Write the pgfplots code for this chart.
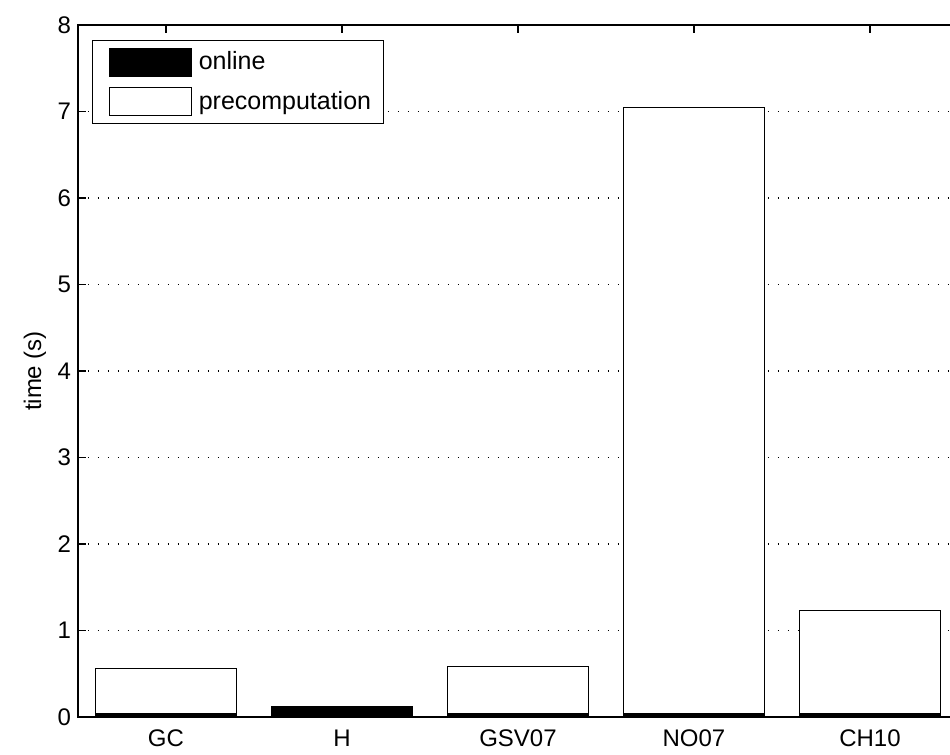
\documentclass[border=0pt]{standalone}
\usepackage{fontspec}
\setmainfont{Liberation Sans}
\usepackage{pgfplots}
\pgfplotsset{compat=1.18}
\begin{document}
\begin{tikzpicture}
\useasboundingbox (-39pt,-19pt) rectangle (436pt,358.5pt);
\begin{axis}[
 at={(0,0)}, anchor=south west,
 scale only axis, width=440pt, height=346pt,
 xmin=0.5, xmax=5.5, ymin=0, ymax=8,
 ybar stacked, bar width=0.8,
 xtick={1,2,3,4,5}, xticklabels={GC,H,GSV07,NO07,CH10},
 ytick={0,1,2,3,4,5,6,7,8},
 tick align=inside, major tick length=4pt,
 ymajorgrids,
 grid style={black, line width=0.6pt, dash pattern=on 0.6pt off 4.4pt},
 axis line style={line width=0.6pt},
 every tick/.style={black, line width=0.6pt},
 font=\fontsize{12}{14}\selectfont,
 xticklabel style={yshift=-3pt},
 /pgf/number format/assume math mode=true,
 ylabel={time (s)},
 ylabel style={at={(axis description cs:-0.0489,0.5)}, anchor=center},
 legend style={at={(axis description cs:0.0159,0.978)}, anchor=north west,
   draw=black, line width=0.6pt, font=\fontsize{12.5}{14}\selectfont,
   inner xsep=4pt, inner ysep=1pt, row sep=0pt,
   cells={anchor=west}},
 legend image code/.code={\path (-4pt,-9.5pt) (42.5pt,9.5pt);
   \draw[#1,line width=0.6pt] (0pt,-7pt) rectangle (41pt,7pt);},
]
\addplot[fill=black, draw=black, line width=0.6pt] coordinates {(1,0.04) (2,0.12) (3,0.04) (4,0.04) (5,0.04)};
\addplot[fill=white, draw=black, line width=0.6pt] coordinates {(1,0.52) (2,0) (3,0.54) (4,7.01) (5,1.19)};
\legend{online, precomputation}
\end{axis}
\end{tikzpicture}
\end{document}
